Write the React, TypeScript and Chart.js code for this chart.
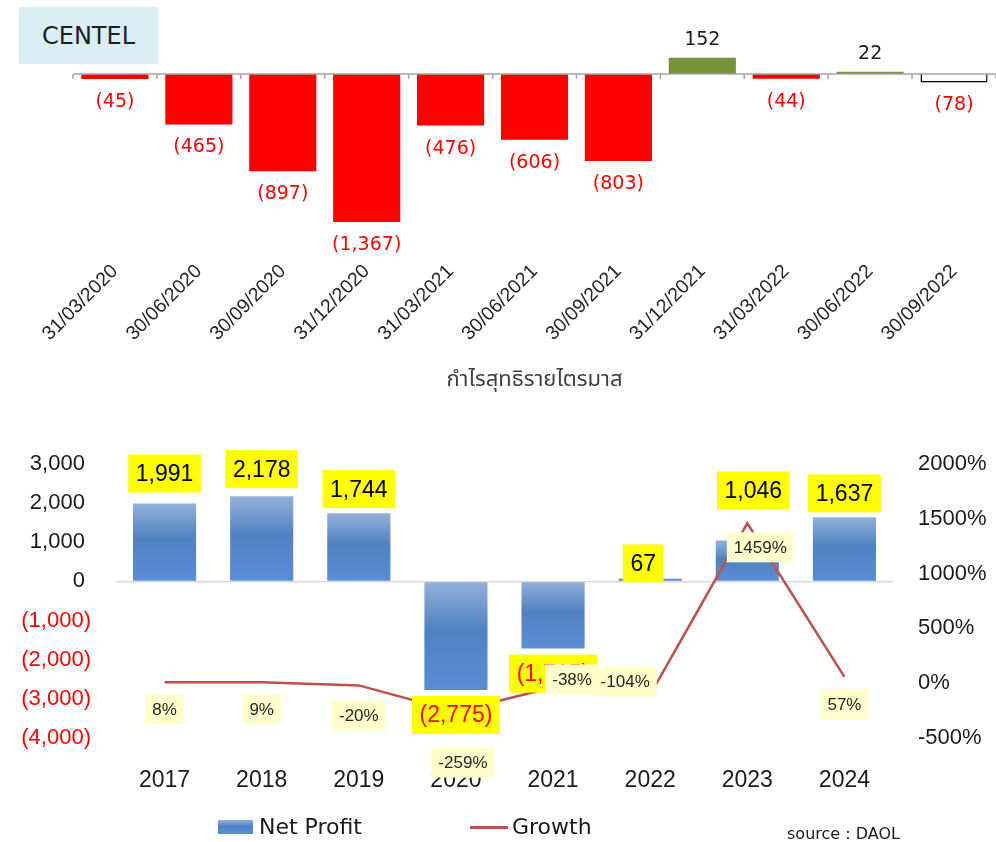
import React, { useEffect, useRef } from "react";
import { Chart, registerables } from "chart.js";

Chart.register(...registerables);

// ---------- Top chart data ----------
const quarterLabels = [
  "31/03/2020", "30/06/2020", "30/09/2020", "31/12/2020", "31/03/2021", "30/06/2021",
  "30/09/2021", "31/12/2021", "31/03/2022", "30/06/2022", "30/09/2022",
];
const quarterProfit = [-45, -465, -897, -1367, -476, -606, -803, 152, -44, 22, -78];
const quarterTitle = "กำไรสุทธิรายไตรมาส";
const stockName = "CENTEL";

// ---------- Bottom chart data ----------
const years = ["2017", "2018", "2019", "2020", "2021", "2022", "2023", "2024"];
const netProfit = [1991, 2178, 1744, -2775, -1715, 67, 1046, 1637];
const growthPct = [8, 9, -20, -259, -38, -104, 1459, 57];
const leftTicks = [-4000, -3000, -2000, -1000, 0, 1000, 2000, 3000];
const rightTicks = [-500, 0, 500, 1000, 1500, 2000];
const sourceText = "source : DAOL";

// label placement tweaks (styles, not data)
const barLabelDx = [0, 0, 0, 0, 0, -7, 6, 0];
const barLabelDy = [-30, -27, -24, 25, 25, -15, -50, -24];
const growthLabelDx = [0, 0, 0, 7, 19, -25, 13, 0];
const growthLabelDy = [27, 27, 30, 51, -8, -13, 24, 27];

const NUM_FONT = '"Liberation Sans", Arial, sans-serif';
const DV_FONT = '"DejaVu Sans", Verdana, sans-serif';

const fmtNum = (v: number) => Math.abs(v).toLocaleString("en-US");
const fmtAcc = (v: number) => (v < 0 ? `(${fmtNum(v)})` : fmtNum(v));

function TopChart() {
  const ref = useRef<HTMLCanvasElement | null>(null);
  useEffect(() => {
    if (!ref.current) return;
    const colors = quarterProfit.map((v, i) =>
      i === quarterProfit.length - 1 ? "#ffffff" : v < 0 ? "#ff0000" : "#77933c"
    );
    const borderColors = quarterProfit.map((_, i) =>
      i === quarterProfit.length - 1 ? "#000000" : "rgba(0,0,0,0)"
    );
    const borderWidths = quarterProfit.map((_, i) => (i === quarterProfit.length - 1 ? 1.5 : 0));

    const zeroAndLabels = {
      id: "zeroAndLabels",
      afterDatasetsDraw(chart: any) {
        const { ctx, chartArea, scales } = chart;
        const x = scales.x;
        const y = scales.y;
        const y0 = y.getPixelForValue(0);
        const cw = x.getPixelForValue(1) - x.getPixelForValue(0);
        ctx.save();
        ctx.strokeStyle = "#a6a6a6";
        ctx.lineWidth = 1.5;
        ctx.beginPath();
        ctx.moveTo(chartArea.left, y0);
        ctx.lineTo(chartArea.right, y0);
        for (let i = 0; i <= quarterLabels.length; i++) {
          const bx = x.getPixelForValue(0) - cw / 2 + i * cw;
          ctx.moveTo(bx, y0);
          ctx.lineTo(bx, y0 + 5);
        }
        ctx.stroke();
        const meta = chart.getDatasetMeta(0);
        ctx.font = `19px ${DV_FONT}`;
        ctx.textAlign = "center";
        ctx.textBaseline = "middle";
        meta.data.forEach((el: any, i: number) => {
          const v = quarterProfit[i];
          if (v < 0) {
            ctx.fillStyle = "#ff0000";
            ctx.fillText(fmtAcc(v), el.x, el.y + 23);
          } else {
            ctx.fillStyle = "#1a1a1a";
            ctx.fillText(fmtAcc(v), el.x, el.y - 18);
          }
        });
        ctx.restore();
      },
    };

    const chart = new Chart(ref.current, {
      type: "bar",
      data: {
        labels: quarterLabels,
        datasets: [
          {
            data: quarterProfit,
            backgroundColor: colors,
            borderColor: borderColors,
            borderWidth: borderWidths,
            barPercentage: 0.8,
            categoryPercentage: 1,
          },
        ],
      },
      options: {
        animation: false,
        responsive: false,
        maintainAspectRatio: false,
        layout: { padding: { left: 73, right: 0, top: 20, bottom: 0 } },
        plugins: { legend: { display: false }, tooltip: { enabled: false } },
        scales: {
          x: {
            grid: { display: false },
            border: { display: false },
            ticks: {
              minRotation: 45,
              maxRotation: 45,
              autoSkip: false,
              color: "#262626",
              padding: -6,
              font: { family: NUM_FONT, size: 19.5 },
            },
            title: {
              display: true,
              text: quarterTitle,
              color: "#404040",
              font: { family: '"Noto Sans Thai", "Noto Sans", "DejaVu Sans", sans-serif', size: 22 },
              padding: { top: 5, bottom: 5 },
            },
            afterFit: (s: any) => {
              s.height = 142;
            },
          },
          y: { display: false, min: -1700, max: 500 },
        },
      },
      plugins: [zeroAndLabels],
    } as any);
    return () => chart.destroy();
  }, []);
  return <canvas ref={ref} width={996} height={400} style={{ display: "block" }} />;
}

function BottomChart() {
  const ref = useRef<HTMLCanvasElement | null>(null);
  useEffect(() => {
    if (!ref.current) return;

    const barGradient = (ctx: any) => {
      const chart = ctx.chart;
      if (!chart.chartArea || ctx.type !== "data") return "#4f81bd";
      const y = chart.scales.y;
      const y0 = y.getPixelForValue(0);
      const y1 = y.getPixelForValue(ctx.raw as number);
      const top = Math.min(y0, y1);
      const bot = Math.max(y0, y1) + 0.01;
      const g = chart.ctx.createLinearGradient(0, top, 0, bot);
      g.addColorStop(0, "#93b1da");
      g.addColorStop(0.45, "#5082c2");
      g.addColorStop(1, "#598dd6");
      return g;
    };

    const labelsPlugin = {
      id: "valueLabels",
      afterDatasetsDraw(chart: any) {
        const { ctx } = chart;
        ctx.save();
        ctx.textAlign = "center";
        ctx.textBaseline = "middle";
        // bar labels
        const barMeta = chart.getDatasetMeta(1);
        ctx.font = `23px ${NUM_FONT}`;
        barMeta.data.forEach((el: any, i: number) => {
          const v = netProfit[i];
          const t = fmtAcc(v);
          const cx = el.x + barLabelDx[i];
          const cy = el.y + barLabelDy[i];
          const w = ctx.measureText(t).width + 15;
          const h = 38;
          ctx.fillStyle = "#ffff00";
          ctx.fillRect(cx - w / 2, cy - h / 2, w, h);
          ctx.fillStyle = v < 0 ? "#ff0000" : "#000000";
          ctx.fillText(t, cx, cy + 1);
        });
        // growth labels
        const lineMeta = chart.getDatasetMeta(0);
        ctx.font = `17px ${NUM_FONT}`;
        lineMeta.data.forEach((el: any, i: number) => {
          const t = `${growthPct[i]}%`;
          const cx = el.x + growthLabelDx[i];
          const cy = el.y + growthLabelDy[i];
          const w = ctx.measureText(t).width + 14;
          const h = 30;
          ctx.fillStyle = "#ffffcc";
          ctx.fillRect(cx - w / 2, cy - h / 2, w, h);
          ctx.fillStyle = "#262626";
          ctx.fillText(t, cx, cy + 1);
        });
        ctx.restore();
      },
    };

    const chart = new Chart(ref.current, {
      type: "bar",
      data: {
        labels: years,
        datasets: [
          {
            type: "line",
            label: "Growth",
            data: growthPct,
            yAxisID: "y1",
            borderColor: "#c0504d",
            borderWidth: 2.5,
            pointRadius: 0,
            tension: 0,
            order: 1,
          },
          {
            type: "bar",
            label: "Net Profit",
            data: netProfit,
            yAxisID: "y",
            backgroundColor: barGradient,
            borderWidth: 0,
            barPercentage: 0.65,
            categoryPercentage: 1,
            minBarLength: 3,
            order: 2,
          },
        ],
      },
      options: {
        animation: false,
        responsive: false,
        maintainAspectRatio: false,
        layout: { padding: { left: 0, right: 0, top: 64, bottom: 0 } },
        plugins: { legend: { display: false }, tooltip: { enabled: false } },
        scales: {
          x: {
            grid: { display: false },
            border: { display: false },
            ticks: { color: "#1a1a1a", padding: 21, font: { family: NUM_FONT, size: 23 } },
            afterFit: (s: any) => {
              s.height = 104;
            },
          },
          y: {
            position: "left",
            min: leftTicks[0],
            max: leftTicks[leftTicks.length - 1],
            afterBuildTicks: (s: any) => {
              s.ticks = leftTicks.map((v) => ({ value: v }));
            },
            ticks: {
              padding: 25,
              font: { family: NUM_FONT, size: 22 },
              color: (c: any) => (c.tick && c.tick.value < 0 ? "#ff0000" : "#1a1a1a"),
              callback: (v: any) => (Number(v) < 0 ? fmtAcc(Number(v)) : fmtAcc(Number(v)) + " "),
            },
            grid: {
              drawTicks: false,
              lineWidth: 1.5,
              color: (c: any) => (c.tick && c.tick.value === 0 ? "#d9d9d9" : "rgba(0,0,0,0)"),
            },
            border: { display: false },
            afterFit: (s: any) => {
              s.width = 116;
            },
          },
          y1: {
            position: "right",
            min: rightTicks[0],
            max: rightTicks[rightTicks.length - 1],
            afterBuildTicks: (s: any) => {
              s.ticks = rightTicks.map((v) => ({ value: v }));
            },
            ticks: {
              padding: 25,
              font: { family: NUM_FONT, size: 22 },
              color: "#1a1a1a",
              callback: (v: any) => `${v}%`,
            },
            grid: { display: false, drawTicks: false },
            border: { display: false },
            afterFit: (s: any) => {
              s.width = 103;
            },
          },
        },
      },
      plugins: [labelsPlugin],
    } as any);
    return () => chart.destroy();
  }, []);
  return <canvas ref={ref} width={996} height={442} style={{ display: "block" }} />;
}

export default function App() {
  return (
    <div
      style={{
        position: "absolute",
        left: 0,
        top: 0,
        width: 996,
        height: 842,
        background: "#ffffff",
        overflow: "hidden",
      }}
    >
      <div style={{ position: "absolute", left: 0, top: 0 }}>
        <TopChart />
      </div>
      <div
        style={{
          position: "absolute",
          left: 19,
          top: 7,
          width: 139,
          height: 57,
          background: "#daeef3",
          color: "#1f1f1f",
          fontFamily: DV_FONT,
          fontSize: 24,
          display: "flex",
          alignItems: "center",
          justifyContent: "center",
        }}
      >
        {stockName}
      </div>
      <div style={{ position: "absolute", left: 0, top: 400 }}>
        <BottomChart />
      </div>
      {/* legend */}
      <div
        style={{
          position: "absolute",
          left: 218,
          top: 820,
          width: 35,
          height: 14,
          background: "linear-gradient(#93b1da, #5082c2 45%, #598dd6)",
        }}
      />
      <div
        style={{
          position: "absolute",
          left: 259,
          top: 814,
          fontFamily: DV_FONT,
          fontSize: 22,
          color: "#1a1a1a",
          whiteSpace: "nowrap",
        }}
      >
        Net Profit
      </div>
      <div
        style={{
          position: "absolute",
          left: 470,
          top: 826,
          width: 38,
          height: 2.5,
          background: "#c0504d",
        }}
      />
      <div
        style={{
          position: "absolute",
          left: 512,
          top: 814,
          fontFamily: DV_FONT,
          fontSize: 22,
          color: "#1a1a1a",
          whiteSpace: "nowrap",
        }}
      >
        Growth
      </div>
      <div
        style={{
          position: "absolute",
          left: 787,
          top: 824,
          fontFamily: DV_FONT,
          fontSize: 16,
          color: "#1a1a1a",
          whiteSpace: "nowrap",
        }}
      >
        {sourceText}
      </div>
    </div>
  );
}
